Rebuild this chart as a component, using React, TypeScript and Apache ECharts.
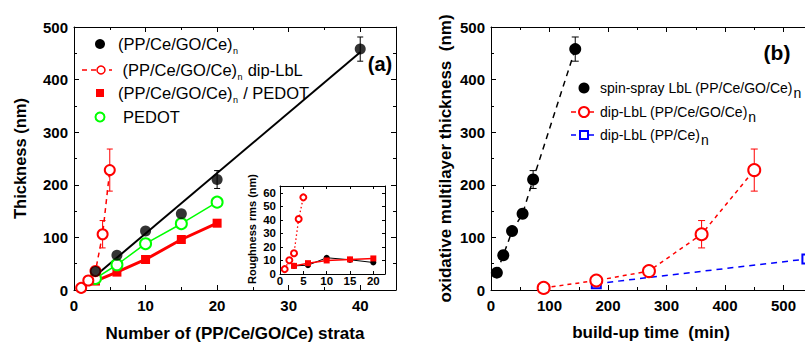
import React, { useEffect, useRef } from "react";
import * as echarts from "echarts";

// ---------- data: panel (a) ----------
const strataBlack = [3, 6, 10, 15, 20, 40];
const thickBlack = [35, 66, 112, 145, 210, 458];
const errBlack = [0, 0, 0, 0, 17, 23];
const fitBlackX = [3, 40];
const fitBlackY = [27, 452];
const strataDip = [1, 2, 3, 4, 5];
const thickDip = [4, 18, 36, 106, 228];
const errDip = [0, 0, 0, 26, 40];
const strataComp = [3, 6, 10, 15, 20];
const thickComp = [17, 34, 58, 96, 127];
const strataPedot = [3, 6, 10, 15, 20];
const thickPedot = [22, 48, 88, 126, 167];

// ---------- data: inset ----------
const roughDipX = [1, 2, 3, 4, 5];
const roughDipY = [3.6, 10.2, 15.3, 40.6, 56.6];
const roughBlackX = [3, 6, 10, 15, 20];
const roughBlackY = [6, 6.5, 12, 10.5, 8.5];
const roughCompX = [3, 6, 10, 15, 20];
const roughCompY = [6, 8, 10, 10.8, 11.5];
const insetYTicks = [0, 10, 20, 30, 40, 50, 60];

// ---------- data: panel (b) ----------
const timeSpin = [10, 21, 36, 54, 72, 144];
const thickSpin = [33, 66, 112, 145, 210, 458];
const errSpin = [0, 0, 0, 0, 17, 23];
const timeDip = [90, 180, 270, 360, 450];
const thickDipB = [4, 18, 36, 106, 228];
const errDipB = [0, 0, 0, 26, 40];
const timePPCe = [180, 540];
const thickPPCe = [12, 59];

const FONT = "Liberation Sans, Arial, Helvetica, sans-serif";

const zip = (xs: number[], ys: number[]) => xs.map((x, i) => [x, ys[i]]);

function errSeries(xs: number[], ys: number[], es: number[], color: string, xi: number, yi: number, cap: number) {
  const data = xs
    .map((x, i) => [x, ys[i] - es[i], ys[i] + es[i]])
    .filter((_, i) => es[i] > 0);
  return {
    type: "custom",
    xAxisIndex: xi,
    yAxisIndex: yi,
    data,
    encode: { x: 0, y: [1, 2] },
    z: 1,
    silent: true,
    renderItem: (_p: any, api: any) => {
      const x = api.value(0);
      const a = api.coord([x, api.value(1)]);
      const b = api.coord([x, api.value(2)]);
      const ls = { stroke: color, lineWidth: 1 };
      return {
        type: "group",
        children: [
          { type: "line", shape: { x1: a[0], y1: a[1], x2: b[0], y2: b[1] }, style: ls },
          { type: "line", shape: { x1: a[0] - cap, y1: a[1], x2: a[0] + cap, y2: a[1] }, style: ls },
          { type: "line", shape: { x1: b[0] - cap, y1: b[1], x2: b[0] + cap, y2: b[1] }, style: ls },
        ],
      };
    },
  };
}

function axis(o: any) {
  const {
    gridIndex, min, max, interval, position, labels = true, fontSize = 15, margin = 6,
    minor = true, tickLen = 5, name, nameGap, nameSize = 17, showMax = true,
  } = o;
  return {
    type: "value",
    gridIndex,
    min,
    max,
    interval,
    position,
    axisLine: { show: true, onZero: false, lineStyle: { color: "#000", width: 1 } },
    axisTick: { show: true, inside: true, length: tickLen, lineStyle: { color: "#000", width: 1 } },
    minorTick: { show: minor, splitNumber: 2, length: tickLen - 2, lineStyle: { color: "#000", width: 1 } },
    splitLine: { show: false },
    axisLabel: {
      show: labels,
      color: "#000",
      fontWeight: "bold",
      fontSize,
      fontFamily: FONT,
      margin,
      hideOverlap: false,
      showMaxLabel: showMax,
      showMinLabel: true,
    },
    name,
    nameLocation: "middle",
    nameGap,
    nameMoveOverlap: false,
    nameTextStyle: { color: "#000", fontWeight: "bold", fontSize: nameSize, fontFamily: FONT },
  };
}

function measure(text: string, font: string) {
  const c = document.createElement("canvas").getContext("2d")!;
  c.font = font;
  return c.measureText(text).width;
}

function txt(x: number, y: number, text: string, size: number, weight = "normal", align = "left", rotation = 0) {
  return {
    type: "text",
    x,
    y,
    rotation,
    silent: true,
    z: 100,
    style: {
      text,
      fill: "#000",
      fontSize: size,
      fontWeight: weight,
      fontFamily: FONT,
      align,
      verticalAlign: "middle",
      textAlign: align,
      textVerticalAlign: "middle",
    },
  };
}

function legendText(x: number, y: number, main: string, size: number, subSize: number, subDy: number, after = "") {
  const w = measure(main, `${size}px ${FONT}`);
  const sw = measure("n", `${subSize}px ${FONT}`);
  const els: any[] = [txt(x, y, main, size), txt(x + w + 0.5, y + subDy, "n", subSize)];
  if (after) els.push(txt(x + w + sw + 1, y, after, size));
  return els;
}

// inset chart lives in its own div at (INSET_LEFT, INSET_TOP)
const INSET_LEFT = 240;
const INSET_TOP = 170;

export default function App() {
  const ref = useRef<HTMLDivElement>(null);
  const insetRef = useRef<HTMLDivElement>(null);
  useEffect(() => {
    if (!ref.current || !insetRef.current) return;
    const chart = echarts.init(ref.current, undefined, { renderer: "svg" });
    const inset = echarts.init(insetRef.current, undefined, { renderer: "svg" });

    // inset grid: plot box at page (280,186)-(385,274)
    const insetOption: any = {
      animation: false,
      grid: [{ left: 280 - INSET_LEFT, top: 186 - INSET_TOP, width: 105, height: 88, outerBoundsMode: "none", containLabel: false }],
      xAxis: [
        axis({ gridIndex: 0, min: 0, max: 22.5, interval: 5, position: "bottom", fontSize: 11.5, margin: 1, minor: false, tickLen: 3, showMax: false }),
        axis({ gridIndex: 0, min: 0, max: 22.5, interval: 5, position: "top", labels: false, minor: false, tickLen: 3 }),
      ],
      yAxis: [
        axis({ gridIndex: 0, min: 0, max: 65, interval: 10, position: "left", labels: false, minor: false, tickLen: 3 }),
        axis({ gridIndex: 0, min: 0, max: 65, interval: 10, position: "right", labels: false, minor: false, tickLen: 3 }),
      ],
      series: [
        { type: "line", data: zip(roughDipX, roughDipY), symbol: "emptyCircle", symbolSize: 6, itemStyle: { color: "#ff0000", borderWidth: 1.2 }, lineStyle: { color: "#ff0000", width: 1.3, type: [1.5, 2.5] }, z: 3, silent: true },
        { type: "line", data: zip(roughBlackX, roughBlackY), symbol: "circle", symbolSize: 6, itemStyle: { color: "#000" }, lineStyle: { color: "#000", width: 1 }, z: 3, silent: true },
        { type: "line", data: zip(roughCompX, roughCompY), symbol: "rect", symbolSize: 6, itemStyle: { color: "#ff0000" }, lineStyle: { color: "#ff0000", width: 1.5 }, z: 4, silent: true },
      ],
    };
    inset.setOption(insetOption);

    // inset y tick labels and title, placed (in page coordinates) through the inset's own y scale
    const insetLabels: any[] = insetYTicks.map((v) => {
      const py = (inset.convertToPixel({ yAxisIndex: 0 } as any, v) as number) + INSET_TOP;
      return txt(276, py, String(v), 11.5, "bold", "right");
    });
    insetLabels.push(txt(252, 229, "Roughness rms (nm)", 11, "bold", "center", Math.PI / 2));

    const graphic: any[] = [
      // legend (a)
      { type: "circle", shape: { cx: 100, cy: 44, r: 5 }, style: { fill: "#000" }, z: 100 },
      ...legendText(118, 44, "(PP/Ce/GO/Ce)", 16.5, 9, 7),
      { type: "line", shape: { x1: 82, y1: 70, x2: 112, y2: 70 }, style: { stroke: "#ff0000", lineWidth: 1.5, lineDash: [5, 4] }, z: 100 },
      { type: "circle", shape: { cx: 101, cy: 70, r: 4 }, style: { fill: "#fff", stroke: "#ff0000", lineWidth: 1.5 }, z: 101 },
      ...legendText(122.5, 70, "(PP/Ce/GO/Ce)", 16.5, 9, 7, " dip-LbL"),
      { type: "rect", shape: { x: 96, y: 89, width: 8, height: 8 }, style: { fill: "#ff0000" }, z: 100 },
      ...legendText(118, 93, "(PP/Ce/GO/Ce)", 16.5, 9, 7, " / PEDOT"),
      { type: "circle", shape: { cx: 100, cy: 117, r: 4.5 }, style: { fill: "#fff", stroke: "#00ff00", lineWidth: 2 }, z: 100 },
      txt(123, 117, "PEDOT", 16.5),
      txt(380, 64, "(a)", 20, "bold", "center"),
      ...insetLabels,
      // legend (b)
      { type: "circle", shape: { cx: 584, cy: 88, r: 5.5 }, style: { fill: "#000" }, z: 100 },
      ...legendText(600, 88, "spin-spray LbL (PP/Ce/GO/Ce)", 14, 14, 5),
      { type: "line", shape: { x1: 571, y1: 112, x2: 597, y2: 112 }, style: { stroke: "#ff0000", lineWidth: 1.5, lineDash: [5, 4] }, z: 100 },
      { type: "circle", shape: { cx: 584, cy: 112, r: 5 }, style: { fill: "#fff", stroke: "#ff0000", lineWidth: 2 }, z: 101 },
      ...legendText(600, 112, "dip-LbL (PP/Ce/GO/Ce)", 14, 14, 5),
      { type: "line", shape: { x1: 571, y1: 135, x2: 597, y2: 135 }, style: { stroke: "#0000ff", lineWidth: 1.5, lineDash: [5, 4] }, z: 100 },
      { type: "rect", shape: { x: 580, y: 131, width: 8, height: 8 }, style: { fill: "#fff", stroke: "#0000ff", lineWidth: 2 }, z: 101 },
      ...legendText(600, 135, "dip-LbL (PP/Ce)", 14, 14, 5),
      txt(777, 52, "(b)", 21, "bold", "center"),
      txt(651, 332, "build-up time  (min)", 17, "bold", "center"),
    ];

    const option: any = {
      animation: false,
      grid: [
        { left: 74, top: 27, width: 322, height: 263, outerBoundsMode: "none", containLabel: false },
        { left: 491, top: 27, width: 351, height: 263, outerBoundsMode: "none", containLabel: false },
      ],
      xAxis: [
        axis({ gridIndex: 0, min: 0, max: 45, interval: 10, position: "bottom", margin: 8, showMax: false, name: "Number of (PP/Ce/GO/Ce) strata", nameGap: 35 }),
        axis({ gridIndex: 0, min: 0, max: 45, interval: 10, position: "top", labels: false }),
        axis({ gridIndex: 1, min: 0, max: 600, interval: 100, position: "bottom", margin: 8, showMax: false }),
        axis({ gridIndex: 1, min: 0, max: 600, interval: 100, position: "top", labels: false }),
      ],
      yAxis: [
        axis({ gridIndex: 0, min: 0, max: 500, interval: 100, position: "left", name: "Thickness (nm)", nameGap: 46, nameSize: 16.5 }),
        axis({ gridIndex: 0, min: 0, max: 500, interval: 100, position: "right", labels: false }),
        axis({ gridIndex: 1, min: 0, max: 500, interval: 100, position: "left", name: "oxidative multilayer thickness  (nm)", nameGap: 37 }),
      ],
      series: [
        // ---- panel (a) ----
        { type: "line", xAxisIndex: 0, yAxisIndex: 0, data: zip(fitBlackX, fitBlackY), symbol: "none", lineStyle: { color: "#000", width: 2 }, z: 2, silent: true },
        { type: "line", xAxisIndex: 0, yAxisIndex: 0, data: zip(strataComp, thickComp), symbol: "rect", symbolSize: 9, itemStyle: { color: "#ff0000" }, lineStyle: { color: "#ff0000", width: 3 }, z: 3, silent: true },
        { type: "line", xAxisIndex: 0, yAxisIndex: 0, data: zip(strataPedot, thickPedot), symbol: "emptyCircle", symbolSize: 11, itemStyle: { color: "#00ff00", borderWidth: 2 }, lineStyle: { color: "#00ff00", width: 1.5 }, z: 4, silent: true },
        errSeries(strataDip, thickDip, errDip, "#ff0000", 0, 0, 3),
        { type: "line", xAxisIndex: 0, yAxisIndex: 0, data: zip(strataDip, thickDip), symbol: "emptyCircle", symbolSize: 10, itemStyle: { color: "#ff0000", borderWidth: 1.5 }, lineStyle: { color: "#ff0000", width: 1.5, type: [5, 4] }, z: 5, silent: true },
        errSeries(strataBlack, thickBlack, errBlack, "#000", 0, 0, 3),
        { type: "scatter", xAxisIndex: 0, yAxisIndex: 0, data: zip(strataBlack, thickBlack), symbol: "circle", symbolSize: 11, itemStyle: { color: "#000" }, z: 6, silent: true },
        // ---- panel (b) ----
        { type: "line", xAxisIndex: 2, yAxisIndex: 2, data: zip(timePPCe, thickPPCe), symbol: "emptyRect", symbolSize: 9, itemStyle: { color: "#0000ff", borderWidth: 2 }, lineStyle: { color: "#0000ff", width: 1.5, type: [6, 5] }, z: 3, silent: true },
        errSeries(timeDip, thickDipB, errDipB, "#ff0000", 2, 2, 3.5),
        { type: "line", xAxisIndex: 2, yAxisIndex: 2, data: zip(timeDip, thickDipB), symbol: "emptyCircle", symbolSize: 12, itemStyle: { color: "#ff0000", borderWidth: 2 }, lineStyle: { color: "#ff0000", width: 1.5, type: [4, 4] }, z: 4, silent: true },
        errSeries(timeSpin, thickSpin, errSpin, "#000", 2, 2, 3.5),
        { type: "line", xAxisIndex: 2, yAxisIndex: 2, data: zip(timeSpin, thickSpin), symbol: "circle", symbolSize: 12, itemStyle: { color: "#000" }, lineStyle: { color: "#000", width: 1.5, type: [6, 5] }, z: 5, silent: true },
      ],
      graphic,
    };
    chart.setOption(option);

    return () => {
      chart.dispose();
      inset.dispose();
    };
  }, []);
  return (
    <div style={{ position: "absolute", left: 0, top: 0, width: 805, height: 342, overflow: "hidden", background: "#fff" }}>
      <div ref={ref} style={{ position: "absolute", left: 0, top: 0, width: 880, height: 342 }} />
      <div ref={insetRef} style={{ position: "absolute", left: INSET_LEFT, top: INSET_TOP, width: 155, height: 125 }} />
    </div>
  );
}
